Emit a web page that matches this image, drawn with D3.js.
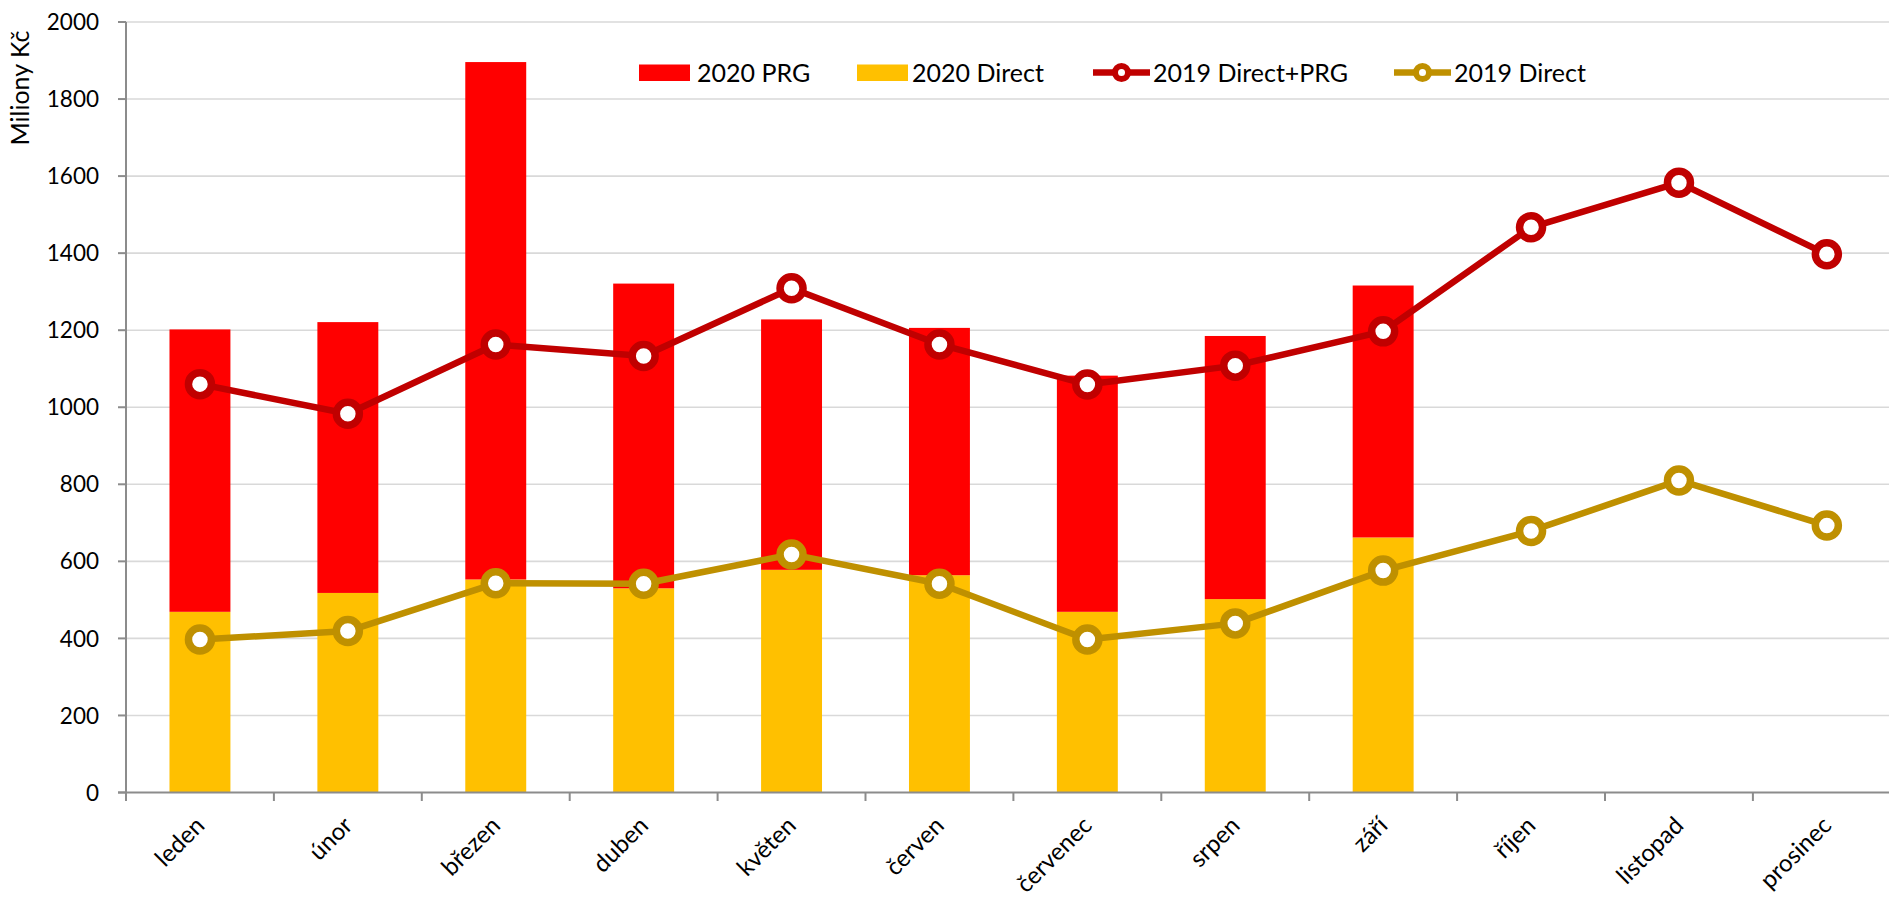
<!DOCTYPE html>
<html><head><meta charset="utf-8">
<script src="https://cdn.jsdelivr.net/npm/d3@7"></script>
<style>body{margin:0;background:#fff;overflow:hidden} svg{display:block;font-family:Lato,'Open Sans',sans-serif;}</style>
</head><body><svg id="c" width="1889" height="897"></svg>
<script>
const months = ["leden","únor","březen","duben","květen","červen","červenec","srpen","září","říjen","listopad","prosinec"];
const direct2020 = [469,518,553,530,578,564,469,502,662];
const prg2020 = [733,703,1343,791,650,642,613,683,654];
const total2019 = [1060,983,1163,1133,1309,1163,1059,1108,1197,1467,1583,1397];
const direct2019 = [397,419,543,542,618,542,397,439,576,679,810,693];
const yTicks = [0,200,400,600,800,1000,1200,1400,1600,1800,2000];
const yTitle = "Miliony Kč";
const legendLabels = ["2020 PRG","2020 Direct","2019 Direct+PRG","2019 Direct"];

const C = {prg:"#FF0000", dir:"#FFC000", tot19:"#C00000", dir19:"#BF9000", grid:"#D9D9D9", axis:"#8C8C8C"};
const left = 126, step = 147.9, right = left + months.length*step;
const svg = d3.select("#c");

const x = d3.scaleBand().domain(months).range([left, right]).paddingInner(0.588).paddingOuter(0.294);
const y = d3.scaleLinear().domain([0,2000]).range([792.5, 22]);
const cx = m => x(m) + x.bandwidth()/2;

// gridlines
svg.append("g").selectAll("line").data(yTicks.filter(v=>v>0)).join("line")
  .attr("x1", left).attr("x2", right).attr("y1", d=>y(d)).attr("y2", d=>y(d))
  .attr("stroke", C.grid).attr("stroke-width", 1.6);

// stacked bars
const rows = direct2020.map((d,i)=>({m:months[i], direct:d, prg:prg2020[i]}));
const stack = d3.stack().keys(["direct","prg"])(rows);
const colors = {direct:C.dir, prg:C.prg};
svg.append("g").selectAll("g").data(stack).join("g").attr("fill", s=>colors[s.key])
  .selectAll("rect").data(s=>s).join("rect")
  .attr("x", d=>x(d.data.m)).attr("width", x.bandwidth())
  .attr("y", d=>y(d[1])).attr("height", d=>y(d[0])-y(d[1]));

// axes
const ax = svg.append("g").attr("stroke", C.axis).attr("stroke-width", 2);
ax.append("line").attr("x1", left).attr("x2", left).attr("y1", y(2000)).attr("y2", y(0)+8.5);
ax.append("line").attr("x1", left-8).attr("x2", right).attr("y1", y(0)).attr("y2", y(0));
ax.selectAll(".yt").data(yTicks).join("line").attr("class","yt")
  .attr("x1", left-8).attr("x2", left).attr("y1", d=>y(d)).attr("y2", d=>y(d));
const bounds = months.map(m=>x(m) - (x.step()-x.bandwidth())/2).concat([right]);
ax.selectAll(".xt").data(bounds).join("line").attr("class","xt")
  .attr("x1", d=>d).attr("x2", d=>d).attr("y1", y(0)).attr("y2", y(0)+8.5);

// y labels
svg.append("g").selectAll("text").data(yTicks).join("text")
  .attr("x", 99).attr("y", d=>y(d)).attr("dy","0.36em").attr("text-anchor","end")
  .attr("font-size", 22.5).attr("fill","#000").text(d=>d);

svg.append("text").attr("transform","translate(29,88) rotate(-90)").attr("text-anchor","middle")
  .attr("font-size", 25).attr("fill","#000").text(yTitle);

// x labels
svg.append("g").selectAll("text").data(months).join("text")
  .attr("transform", m=>`translate(${cx(m)+6},827) rotate(-45)`).attr("text-anchor","end")
  .attr("font-size", 24).attr("fill","#000").text(m=>m);

// lines
function drawLine(vals, color){
  const pts = vals.map((v,i)=>[cx(months[i]), y(v)]);
  svg.append("path").attr("d", d3.line()(pts)).attr("fill","none").attr("stroke", color)
    .attr("stroke-width", 6.5).attr("stroke-linejoin","round").attr("stroke-linecap","round");
  svg.append("g").selectAll("circle").data(pts).join("circle")
    .attr("cx", d=>d[0]).attr("cy", d=>d[1]).attr("r", 11.5)
    .attr("fill","#fff").attr("stroke", color).attr("stroke-width", 7.5);
}
drawLine(total2019, C.tot19);
drawLine(direct2019, C.dir19);

// legend
const lg = svg.append("g").attr("font-size", 25).attr("fill","#000");
const ly = 72.5;
lg.append("rect").attr("x",639).attr("y",64.5).attr("width",51).attr("height",16.5).attr("fill",C.prg);
lg.append("text").attr("x",697).attr("y",ly).attr("dy","0.36em").text(legendLabels[0]);
lg.append("rect").attr("x",857).attr("y",64.5).attr("width",51).attr("height",16.5).attr("fill",C.dir);
lg.append("text").attr("x",912).attr("y",ly).attr("dy","0.36em").text(legendLabels[1]);
[[1093,C.tot19,legendLabels[2]],[1394,C.dir19,legendLabels[3]]].forEach(([x0,col,lab])=>{
  lg.append("line").attr("x1",x0).attr("x2",x0+57).attr("y1",ly).attr("y2",ly).attr("stroke",col).attr("stroke-width",6.5);
  lg.append("circle").attr("cx",x0+28.5).attr("cy",ly).attr("r",6.5).attr("fill","#fff").attr("stroke",col).attr("stroke-width",6);
  lg.append("text").attr("x",x0+60).attr("y",ly).attr("dy","0.36em").text(lab);
});
</script></body></html>
